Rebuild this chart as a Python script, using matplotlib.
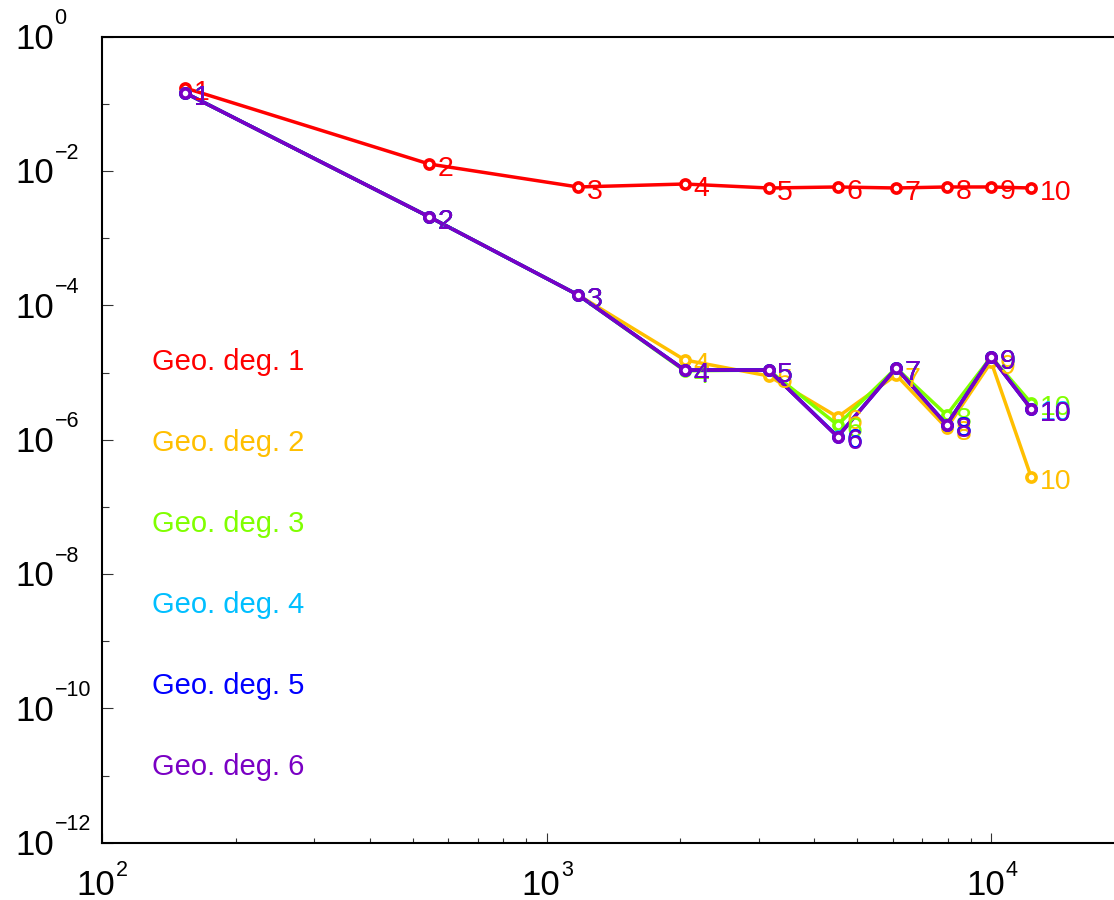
import matplotlib
matplotlib.use("Agg")
import matplotlib.pyplot as plt
import numpy as np
from matplotlib.ticker import FixedLocator, NullFormatter

plt.rcParams["font.family"] = ["Liberation Sans", "DejaVu Sans"]

# ---- data -------------------------------------------------------------
n_dofs = [154, 545, 1177, 2045, 3158, 4515, 6113, 7943, 10000, 12300]
point_ids = ["1", "2", "3", "4", "5", "6", "7", "8", "9", "10"]

err_deg1 = [0.172, 0.0127, 0.00579, 0.00641, 0.00559, 0.00579, 0.00559,
            0.00579, 0.00579, 0.00559]
err_deg2 = [0.145, 0.00207, 1.43e-4, 1.54e-5, 8.9e-6, 2.18e-6, 9.2e-6,
            1.49e-6, 1.44e-5, 2.79e-7]
err_deg3 = [0.145, 0.00207, 1.43e-4, 1.06e-5, 1.09e-5, 1.66e-6, 1.17e-5,
            2.33e-6, 1.71e-5, 3.52e-6]
err_deg4 = [0.145, 0.00207, 1.43e-4, 1.09e-5, 1.09e-5, 1.12e-6, 1.17e-5,
            1.68e-6, 1.71e-5, 2.90e-6]
err_deg5 = [0.145, 0.00207, 1.43e-4, 1.09e-5, 1.09e-5, 1.11e-6, 1.17e-5,
            1.67e-6, 1.71e-5, 2.88e-6]
err_deg6 = [0.145, 0.00207, 1.43e-4, 1.09e-5, 1.09e-5, 1.10e-6, 1.17e-5,
            1.66e-6, 1.71e-5, 2.87e-6]

series_names = ["Geo. deg. 1", "Geo. deg. 2", "Geo. deg. 3",
                "Geo. deg. 4", "Geo. deg. 5", "Geo. deg. 6"]
series_errs = [err_deg1, err_deg2, err_deg3, err_deg4, err_deg5, err_deg6]
series_colors = ["#ff0000", "#ffbf00", "#80ff00", "#00bfff", "#0000ff", "#7a00c4"]

x_decades = [2, 3, 4]
y_decades = [0, -2, -4, -6, -8, -10, -12]

# ---- figure / axes ----------------------------------------------------
W, H = 1114, 900
fig = plt.figure(figsize=(W / 100, H / 100), dpi=100)
ax_left, ax_top, ax_bottom, ax_width = 102, 36.7, 842.7, 1023
ax = fig.add_axes([ax_left / W, (H - ax_bottom) / H, ax_width / W,
                   (ax_bottom - ax_top) / H])
ax.set_xscale("log")
ax.set_yscale("log")
ax.set_xlim(1e2, 2e4)
ax.set_ylim(1e-12, 1e0)

ax.xaxis.set_major_locator(FixedLocator([10.0 ** k for k in x_decades]))
ax.xaxis.set_minor_locator(FixedLocator(
    [m * 10.0 ** k for k in (2, 3, 4) for m in range(2, 10) if m * 10.0 ** k <= 2e4]))
ax.yaxis.set_major_locator(FixedLocator([10.0 ** k for k in y_decades]))
ax.yaxis.set_minor_locator(FixedLocator([10.0 ** k for k in range(-11, 0, 2)]))
for axis in (ax.xaxis, ax.yaxis):
    axis.set_major_formatter(NullFormatter())
    axis.set_minor_formatter(NullFormatter())
ax.tick_params(axis="both", which="both", direction="in", top=False, right=False,
               color="#333333", width=0.8)
ax.tick_params(axis="y", which="major", length=8)
ax.tick_params(axis="y", which="minor", length=5)
ax.tick_params(axis="x", which="major", length=7.5)
ax.tick_params(axis="x", which="minor", length=3.3)
for sp in ax.spines.values():
    sp.set_linewidth(1.5)

# ---- series -----------------------------------------------------------
LABEL_FS = 20.5
lab_em = LABEL_FS * 100 / 72
for name, errs, col in zip(series_names, series_errs, series_colors):
    ax.plot(n_dofs, errs, color=col, lw=2.5, marker="o", ms=6.6, mew=2.6,
            mfc="white", mec=col, solid_joinstyle="miter")
    for xv, yv, pid in zip(n_dofs, errs, point_ids):
        ax.annotate(pid, (xv, yv), xytext=(6.2, -(0.358 * lab_em + 1.5) * 0.72),
                    textcoords="offset points", ha="left", va="baseline",
                    fontsize=LABEL_FS, color=col)

# ---- legend as coloured text -------------------------------------------
LEG_FS = 21
leg_em = LEG_FS * 100 / 72
leg_centres = [360, 441, 522, 603, 684, 765]
for name, col, yc in zip(series_names, series_colors, leg_centres):
    fig.text(152 / W, (H - (yc + 0.358 * leg_em)) / H, name, fontsize=LEG_FS,
             color=col, ha="left", va="baseline")

# ---- tick labels: 10 with a raised exponent ---------------------------
FS_B, FS_S = 25, 15.5
em_b = FS_B * 100 / 72
em_s = FS_S * 100 / 72
cap_b = 0.716 * em_b


def exp_text(k):
    return str(k).replace("-", "\u2212")


for k in y_decades:
    _, ty = ax.transData.transform((1e2, 10.0 ** k))
    base = ty - cap_b / 2
    fig.text(15 / W, base / H, "10", fontsize=FS_B, ha="left", va="baseline")
    fig.text((15 + 1.112 * em_b + 1) / W, (base + cap_b) / H, exp_text(k),
             fontsize=FS_S, ha="left", va="baseline")

for k in x_decades:
    tx, _ = ax.transData.transform((10.0 ** k, 1e-12))
    sup = exp_text(k)
    total = 1.112 * em_b + 0.556 * em_s * len(sup)
    left = tx - total / 2
    base = 5.0
    fig.text(left / W, base / H, "10", fontsize=FS_B, ha="left", va="baseline")
    fig.text((left + 1.112 * em_b + 1) / W, (base + cap_b - 6) / H, sup,
             fontsize=FS_S, ha="left", va="baseline")

fig.savefig("out.png", dpi=100)
